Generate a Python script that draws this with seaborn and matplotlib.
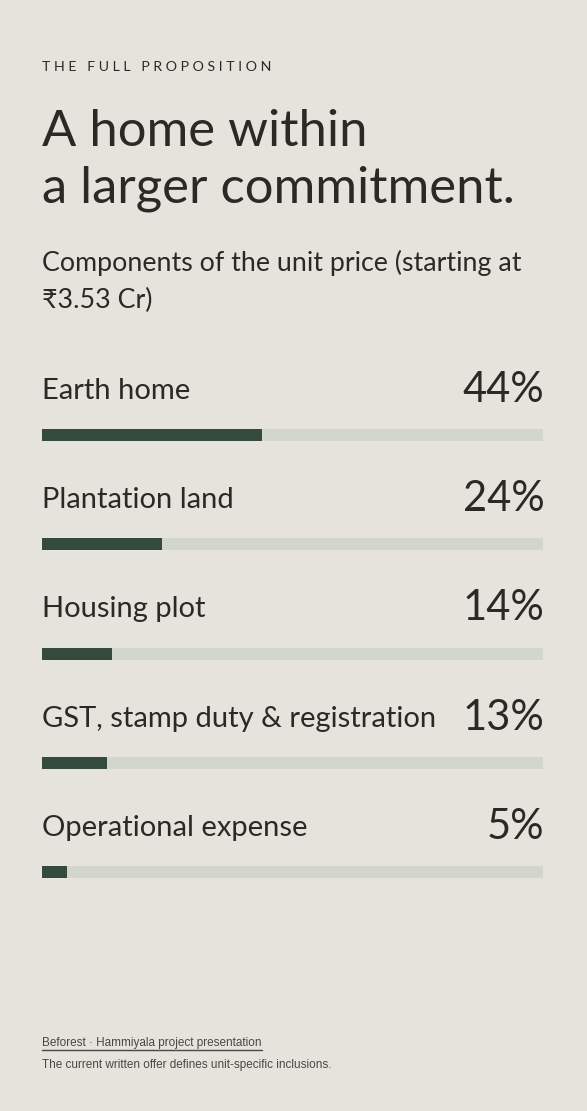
import matplotlib
matplotlib.use("Agg")
import matplotlib.pyplot as plt
import seaborn as sns
import pandas as pd
from matplotlib.lines import Line2D

categories = ["Earth home", "Plantation land", "Housing plot",
              "GST, stamp duty & registration", "Operational expense"]
shares = [44, 24, 14, 13, 5]
pct_labels = ["44%", "24%", "14%", "13%", "5%"]

kicker = "THE FULL PROPOSITION"
title_lines = ["A home within", "a larger commitment."]
subtitle_lines = ["Components of the unit price (starting at", "₹3.53 Cr)"]
footer_source = "Beforest · Hammiyala project presentation"
footer_note = "The current written offer defines unit-specific inclusions."

BG = "#E6E3DD"
DARK = "#344A3C"
TRACK = "#D3D6CA"
INK = "#2B2926"
GREY = "#4A4744"

sns.set_theme(style="white")
plt.rcParams['font.family'] = ['Lato', 'DejaVu Sans']

W, H = 587, 1111
fig = plt.figure(figsize=(W / 100, H / 100), dpi=100)
fig.patch.set_facecolor(BG)

def fx(px):
    return px / W

def fy(py):
    return 1 - py / H

# bar axis
left, right = 42, 543
step = 109.25
top = 435 - 0.5 * step
bottom = 872 + 0.5 * step
ax = fig.add_axes([fx(left), fy(bottom), fx(right) - fx(left), (bottom - top) / H])
ax.set_facecolor("none")

df = pd.DataFrame({"category": categories, "share": shares, "full": [100] * len(shares)})
bh = 12 / step
sns.barplot(data=df, y="category", x="full", color=TRACK, width=bh, ax=ax,
            orient="h", saturation=1, linewidth=0)
sns.barplot(data=df, y="category", x="share", color=DARK, width=bh, ax=ax,
            orient="h", saturation=1, linewidth=0)
ax.set_xlim(0, 100)
ax.set_ylim(len(categories) - 0.5, -0.5)
ax.axis("off")

for i, (cat, lab) in enumerate(zip(categories, pct_labels)):
    ax.text(0, i - 36 / step, cat, ha="left", va="baseline", fontsize=21,
            color=INK, fontweight="normal")
    ax.text(100.3, i - 33 / step, lab, ha="right", va="baseline", fontsize=30,
            color=INK, fontweight="normal")

# header texts
spaced = "   ".join(" ".join(w) for w in kicker.split(" "))
fig.text(fx(42), fy(71), spaced, ha="left", va="baseline", fontsize=10.2, color=INK)
fig.text(fx(42), fy(146), title_lines[0], ha="left", va="baseline", fontsize=36.5, color=INK)
fig.text(fx(42), fy(203), title_lines[1], ha="left", va="baseline", fontsize=36.5, color=INK)
fig.text(fx(42), fy(271), subtitle_lines[0], ha="left", va="baseline", fontsize=19.3, color=INK)
fig.text(fx(42), fy(308), subtitle_lines[1], ha="left", va="baseline", fontsize=19.3, color=INK)

src = fig.text(fx(42), fy(1046), footer_source, ha="left", va="baseline", fontsize=8.5,
               color=GREY, family=['Liberation Sans', 'DejaVu Sans'])
fig.text(fx(42), fy(1068), footer_note, ha="left", va="baseline", fontsize=8.5,
         color=GREY, family=['Liberation Sans', 'DejaVu Sans'])

fig.canvas.draw()
bb = src.get_window_extent(renderer=fig.canvas.get_renderer())
x0, x1 = bb.x0 / W, bb.x1 / W
fig.add_artist(Line2D([x0, x1], [fy(1050), fy(1050)], color=GREY, lw=1.0,
                      transform=fig.transFigure))

fig.savefig("out.png", dpi=100, facecolor=BG)
